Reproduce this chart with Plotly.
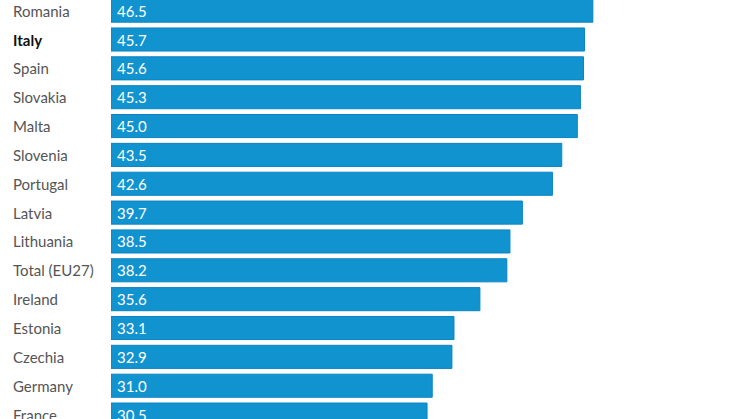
import plotly.graph_objects as go

countries = ["Romania", "Italy", "Spain", "Slovakia", "Malta", "Slovenia", "Portugal",
             "Latvia", "Lithuania", "Total (EU27)", "Ireland", "Estonia", "Czechia",
             "Germany", "France"]
values = [46.5, 45.7, 45.6, 45.3, 45.0, 43.5, 42.6, 39.7, 38.5, 38.2, 35.6, 33.1, 32.9, 31.0, 30.5]
highlight = "Italy"

idx = list(range(len(countries)))

fig = go.Figure(go.Bar(
    x=values, y=idx, orientation="h",
    marker=dict(color="#1193cf", line=dict(color="#0a84c2", width=1)),
    hoverinfo="skip",
))

annotations = []
for i, c, v in zip(idx, countries, values):
    bold = c == highlight
    annotations.append(dict(
        x=-0.1575, xref="paper", y=i, yref="y", xanchor="left", yanchor="middle",
        text=f"<b>{c}</b>" if bold else c, showarrow=False,
        font=dict(family="Lato", size=15, color="#111111" if bold else "#555555"),
    ))
    annotations.append(dict(
        x=0, xref="x", y=i, yref="y", xanchor="left", yanchor="middle", xshift=4,
        text=f"{v:.1f}", showarrow=False,
        font=dict(family="Lato", size=15, color="white"),
    ))

fig.update_layout(
    width=746, height=419,
    margin=dict(l=111, r=0, t=0, b=0),
    paper_bgcolor="white", plot_bgcolor="white",
    bargap=0.2, showlegend=False,
    xaxis=dict(range=[0, 61.28], visible=False),
    yaxis=dict(range=[14.154, -0.369], visible=False),
    annotations=annotations,
)

fig.write_html(
    "out.html",
    config={"displayModeBar": False},
    post_script="document.body.style.margin='0';document.body.style.overflow='hidden';",
)
